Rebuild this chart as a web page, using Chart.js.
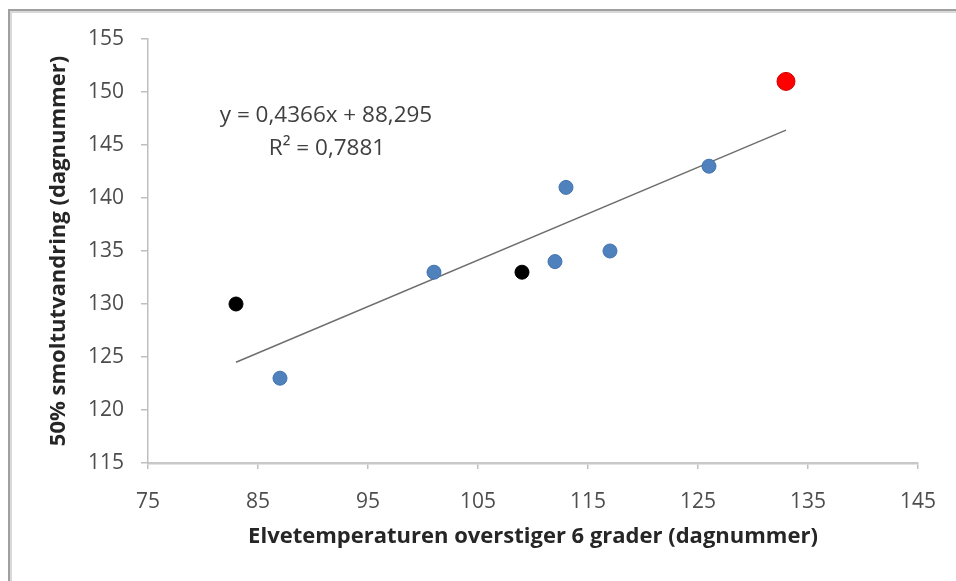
<!DOCTYPE html>
<html>
<head>
<meta charset="utf-8">
<script src="https://cdn.jsdelivr.net/npm/chart.js@4.4.1/dist/chart.umd.min.js"></script>
<style>
  html, body { margin: 0; padding: 0; background: #fff; }
  #wrap { position: relative; width: 956px; height: 581px; }
</style>
</head>
<body>
<div id="wrap"><canvas id="smoltChart" width="956" height="581"></canvas></div>
<script>
// data
const blueX = [87, 101, 112, 113, 117, 126];
const blueY = [123, 133, 134, 141, 135, 143];
const blackX = [83, 109];
const blackY = [130, 133];
const redX = [133];
const redY = [151];
const trendX = [83, 133];
const trendY = [124.5, 146.4];
const equationLines = ['y = 0,4366x + 88,295', 'R² = 0,7881'];

const xTitle = 'Elvetemperaturen overstiger 6 grader (dagnummer)';
const yTitle = '50% smoltutvandring (dagnummer)';

const FONT = "'Open Sans', sans-serif";

function toPoints(xs, ys) {
    return xs.map((x, i) => ({ x: x, y: ys[i] }));
}

// ramme + regresjonstekst
const framePlugin = {
    id: 'frame',
    beforeDraw(chart) {
        const ctx = chart.ctx;
        ctx.save();
        ctx.fillStyle = '#fff';
        ctx.fillRect(0, 0, chart.width, chart.height);
        ctx.strokeStyle = '#d9d9d9';
        ctx.lineWidth = 2;
        ctx.beginPath();
        ctx.moveTo(11, chart.height);
        ctx.lineTo(11, 12);
        ctx.lineTo(chart.width, 12);
        ctx.stroke();
        ctx.strokeStyle = '#a0a0a0';
        ctx.beginPath();
        ctx.moveTo(9, chart.height);
        ctx.lineTo(9, 10);
        ctx.lineTo(chart.width, 10);
        ctx.stroke();
        ctx.restore();
    },
    afterDatasetsDraw(chart) {
        const ctx = chart.ctx;
        const area = chart.chartArea;
        ctx.save();
        ctx.font = '22.5px ' + FONT;
        ctx.fillStyle = '#404040';
        ctx.textAlign = 'center';
        ctx.textBaseline = 'middle';
        ctx.fillText(equationLines[0], area.left + 178, area.top + 77);
        ctx.fillText(equationLines[1], area.left + 179, area.top + 110);
        ctx.restore();
    }
};

const ctx = document.getElementById('smoltChart').getContext('2d');
const chartInstance = new Chart(ctx, {
    type: 'scatter',
    data: {
        datasets: [{
            label: 'trend',
            type: 'line',
            data: toPoints(trendX, trendY),
            borderColor: '#6e6e6e',
            borderWidth: 1.5,
            pointRadius: 0,
            fill: false,
            order: 4
        }, {
            label: 'blå',
            data: toPoints(blueX, blueY),
            backgroundColor: '#4f81bd',
            borderColor: '#4274b0',
            borderWidth: 1,
            pointRadius: 7,
            order: 1
        }, {
            label: 'svart',
            data: toPoints(blackX, blackY),
            backgroundColor: '#000000',
            borderColor: '#000000',
            borderWidth: 1,
            pointRadius: 7,
            order: 2
        }, {
            label: 'rød',
            data: toPoints(redX, redY),
            backgroundColor: '#ff0000',
            borderColor: '#d40000',
            borderWidth: 1,
            pointRadius: 9,
            order: 3
        }]
    },
    options: {
        responsive: false,
        animation: false,
        layout: { padding: { left: 0, top: 39, right: 38, bottom: 0 } },
        plugins: {
            legend: { display: false },
            tooltip: { enabled: false }
        },
        scales: {
            x: {
                type: 'linear',
                min: 75,
                max: 145,
                afterFit: function(scale) { scale.height = 118; },
                ticks: {
                    stepSize: 10,
                    color: '#4d4d4d',
                    padding: 20,
                    font: { family: FONT, size: 21 }
                },
                grid: { drawOnChartArea: false, drawTicks: true, tickLength: 6, color: '#bfbfbf', lineWidth: 1.5 },
                border: { color: '#c8c8c8', width: 2.5 },
                title: {
                    display: true,
                    text: xTitle,
                    color: '#262626',
                    padding: { top: 0, bottom: 31 },
                    font: { family: FONT, size: 22, weight: 'bold' }
                }
            },
            y: {
                type: 'linear',
                min: 115,
                max: 155,
                afterFit: function(scale) { scale.width = 148; },
                ticks: {
                    stepSize: 5,
                    color: '#4d4d4d',
                    padding: 17,
                    font: { family: FONT, size: 21 }
                },
                grid: { drawOnChartArea: false, drawTicks: true, tickLength: 7, color: '#bfbfbf', lineWidth: 1.5 },
                border: { color: '#bfbfbf', width: 1.5 },
                title: {
                    display: true,
                    text: yTitle,
                    color: '#262626',
                    padding: { top: 46, bottom: 0 },
                    font: { family: FONT, size: 22, weight: 'bold' }
                }
            }
        }
    },
    plugins: [framePlugin]
});
</script>
</body>
</html>
